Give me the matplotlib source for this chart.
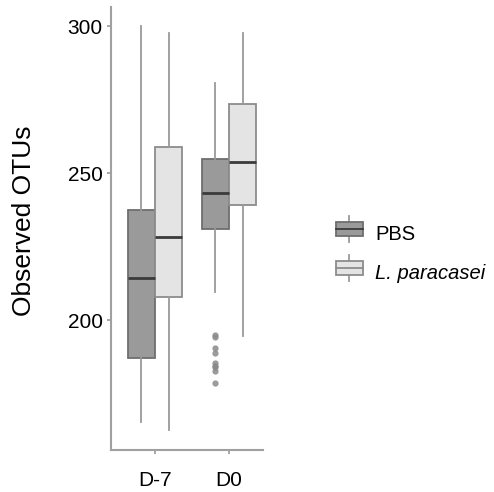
import matplotlib.pyplot as plt
import numpy as np
from matplotlib.patches import Rectangle
from matplotlib.lines import Line2D
from matplotlib.legend_handler import HandlerBase

plt.rcParams['font.family'] = ['Liberation Sans', 'DejaVu Sans']

days = ["D-7", "D0"]
groups = ["PBS", "L. paracasei"]

# five-number summaries: whislo, q1, med, q3, whishi
pbs_stats = [[165.3, 187.2, 214.2, 237.4, 300.0],
             [209.4, 231.0, 243.3, 254.8, 280.8]]
lp_stats = [[162.5, 207.8, 228.2, 259.0, 297.8],
            [194.6, 239.2, 253.7, 273.6, 297.8]]
pbs_fliers = [[], [194.9, 194.1, 190.6, 188.7, 185.3, 184.5, 183.9, 182.8, 178.5]]
lp_fliers = [[], []]

fills = ["#9a9a9a", "#e4e4e4"]
edges = ["#6e6e6e", "#8c8c8c"]


def make_stats(rows, fliers):
    out = []
    for r, f in zip(rows, fliers):
        out.append(dict(whislo=r[0], q1=r[1], med=r[2], q3=r[3], whishi=r[4],
                        fliers=f))
    return out


fig = plt.figure(figsize=(4.94, 4.92), dpi=100)
ax = fig.add_axes([0.2247, 0.0854, 0.3077, 0.9004])

x = np.arange(1, len(days) + 1)
off = 0.186
w = 0.37
for i, (st, fl) in enumerate([(pbs_stats, pbs_fliers), (lp_stats, lp_fliers)]):
    pos = x + (i * 2 - 1) * off
    ax.bxp(make_stats(st, fl), positions=pos, widths=w, patch_artist=True,
           showcaps=False,
           boxprops=dict(facecolor=fills[i], edgecolor=edges[i], linewidth=1.3),
           whiskerprops=dict(color="#9a9a9a", linewidth=1.3),
           medianprops=dict(color="#3a3a3a", linewidth=2.0),
           flierprops=dict(marker="o", markersize=4.5, markerfacecolor="#8a8a8a",
                           markeredgecolor="none", alpha=0.85))

ax.set_xlim(0.405, 2.46)
ax.set_ylim(155.8, 306.5)
ax.set_xticks(x)
ax.set_xticklabels(days, fontsize=15)
ax.set_yticks([200, 250, 300])
ax.tick_params(axis="y", labelsize=15, length=3, color="#9a9a9a", width=1.2, pad=3)
ax.tick_params(axis="x", length=3, color="#9a9a9a", width=1.2, pad=12)
for s in ["top", "right"]:
    ax.spines[s].set_visible(False)
for s in ["left", "bottom"]:
    ax.spines[s].set_color("#a0a0a0")
    ax.spines[s].set_linewidth(1.5)
ax.set_ylabel("Observed OTUs", fontsize=19)
ax.yaxis.set_label_coords(-0.495, 0.517)


class BoxHandler(HandlerBase):
    def create_artists(self, legend, orig, xd, yd, width, height, fontsize, trans):
        fc, ec = orig.get_facecolor(), orig.get_edgecolor()
        bw, bh = width, height * 0.8
        y0 = yd + (height - bh) / 2
        cx = xd + width / 2
        top = Line2D([cx, cx], [y0 + bh, y0 + bh + 4], color="#9a9a9a", lw=1.3, transform=trans)
        bot = Line2D([cx, cx], [y0 - 4, y0], color="#9a9a9a", lw=1.3, transform=trans)
        rect = Rectangle((xd, y0), bw, bh, facecolor=fc, edgecolor=ec, lw=1.3, transform=trans)
        med = Line2D([xd, xd + bw], [y0 + bh / 2] * 2, color="#3a3a3a" if fc[0] < 0.8 else "#8c8c8c",
                     lw=1.3, transform=trans)
        return [top, bot, rect, med]


handles = [Rectangle((0, 0), 1, 1, facecolor=fills[i], edgecolor=edges[i]) for i in range(2)]
leg = fig.legend(handles, ["PBS", "L. paracasei"], handler_map={Rectangle: BoxHandler()},
                 loc="center left", bbox_to_anchor=(0.643, 0.484), frameon=False,
                 fontsize=14.5, handlelength=1.35, handleheight=1.0, labelspacing=0.95,
                 handletextpad=0.6)
leg.get_texts()[1].set_fontstyle("italic")

fig.savefig("out.png", dpi=100)
